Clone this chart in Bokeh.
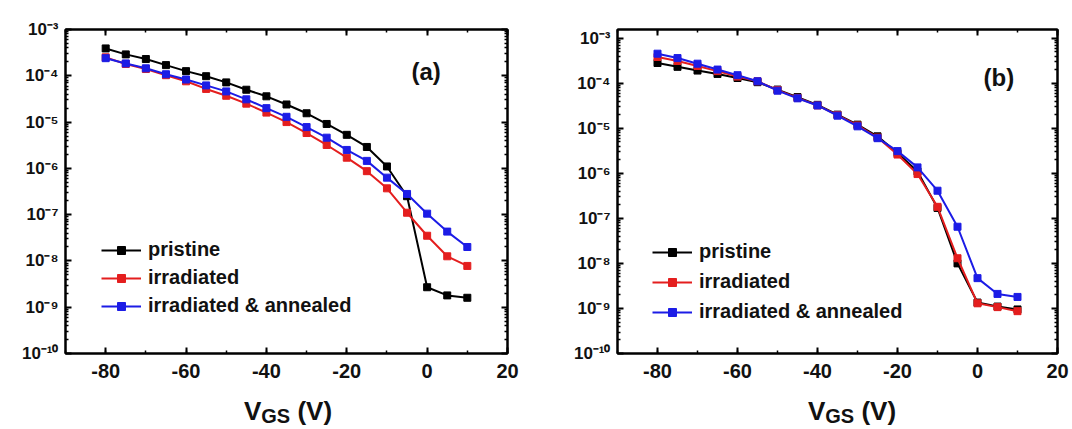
from bokeh.plotting import figure
from bokeh.layouts import row, column
from bokeh.models import (Range1d, FixedTicker, SingleIntervalTicker, CustomJSTickFormatter,
                          LogAxis, LinearAxis, Label, Legend, Div)
from bokeh.embed import file_html
from bokeh.resources import INLINE

# ---- data ----
vgs = [-80, -75, -70, -65, -60, -55, -50, -45, -40, -35, -30, -25, -20, -15, -10, -5, 0, 5, 10]

a_pristine = [3.9e-4, 2.9e-4, 2.3e-4, 1.7e-4, 1.26e-4, 9.8e-5, 7.2e-5, 5.0e-5, 3.6e-5, 2.4e-5,
              1.55e-5, 9.1e-6, 5.3e-6, 2.9e-6, 1.1e-6, 2.5e-7, 2.7e-9, 1.8e-9, 1.6e-9]
a_irradiated = [2.5e-4, 1.8e-4, 1.4e-4, 1.03e-4, 7.6e-5, 5.2e-5, 3.7e-5, 2.5e-5, 1.6e-5, 1.0e-5,
                5.8e-6, 3.2e-6, 1.7e-6, 8.7e-7, 3.7e-7, 1.1e-7, 3.5e-8, 1.26e-8, 7.8e-9]
a_annealed = [2.4e-4, 1.85e-4, 1.45e-4, 1.08e-4, 8.3e-5, 6.2e-5, 4.6e-5, 3.1e-5, 2.0e-5, 1.3e-5,
              7.8e-6, 4.6e-6, 2.5e-6, 1.45e-6, 6.3e-7, 2.8e-7, 1.05e-7, 4.3e-8, 2.0e-8]

b_pristine = [2.8e-4, 2.3e-4, 1.9e-4, 1.6e-4, 1.3e-4, 1.05e-4, 7.2e-5, 4.9e-5, 3.3e-5, 2.0e-5,
              1.2e-5, 6.6e-6, 2.8e-6, 1.1e-6, 1.7e-7, 1.0e-8, 1.35e-9, 1.1e-9, 9.5e-10]
b_irradiated = [3.8e-4, 3.1e-4, 2.4e-4, 1.85e-4, 1.4e-4, 1.1e-4, 7.0e-5, 4.7e-5, 3.2e-5, 1.95e-5,
                1.15e-5, 6.2e-6, 2.6e-6, 9.6e-7, 1.8e-7, 1.3e-8, 1.3e-9, 1.07e-9, 8.7e-10]
b_annealed = [4.5e-4, 3.6e-4, 2.7e-4, 2.0e-4, 1.5e-4, 1.1e-4, 6.8e-5, 4.6e-5, 3.2e-5, 1.9e-5,
              1.1e-5, 6.0e-6, 3.1e-6, 1.35e-6, 4.1e-7, 6.5e-8, 4.7e-9, 2.1e-9, 1.8e-9]

series_names = ["pristine", "irradiated", "irradiated & annealed"]
series_colors = ["#000000", "#e41e1e", "#1c1ce6"]
panel_tags = ["(a)", "(b)"]
x_label_parts = ["V", "GS", "(V)"]

FONT = "Liberation Sans"

decades = [10.0 ** e for e in range(-10, -2)]
minors = [m * 10.0 ** e for e in range(-11, -2) for m in range(2, 10)]

sup_js = """
const sup = {"-":"\u207b","0":"\u2070","1":"\u00b9","2":"\u00b2","3":"\u00b3","4":"\u2074",
             "5":"\u2075","6":"\u2076","7":"\u2077","8":"\u2078","9":"\u2079"};
const e = Math.round(Math.log10(tick));
return "10" + String(e).split("").map(c => sup[c]).join("");
"""


def make_panel(series, tag, ytop, borders, size, legend_loc, legend_spacing, tag_pos):
    bl, br, bt, bb = borders
    p = figure(width=size[0], height=size[1], y_axis_type="log",
               x_range=Range1d(-90, 20), y_range=Range1d(1e-10, ytop),
               output_backend="svg", toolbar_location=None,
               min_border_left=bl, min_border_right=br, min_border_top=bt, min_border_bottom=bb)
    p.grid.visible = False
    p.outline_line_color = "black"
    p.outline_line_width = 2
    p.background_fill_color = "white"
    p.border_fill_color = "white"

    xt = SingleIntervalTicker(interval=20, num_minor_ticks=2)
    yt = FixedTicker(ticks=decades, minor_ticks=minors)
    fmt = CustomJSTickFormatter(code=sup_js)
    blank = CustomJSTickFormatter(code="return '';")

    xa = p.xaxis[0]
    xa.ticker = xt
    xa.formatter = CustomJSTickFormatter(code="return tick.toFixed(0);")
    ya = p.yaxis[0]
    ya.ticker = yt
    ya.formatter = fmt

    top = LinearAxis(ticker=xt, formatter=blank)
    right = LogAxis(ticker=yt, formatter=blank)
    p.add_layout(top, "above")
    p.add_layout(right, "right")

    for ax in [xa, ya, top, right]:
        ax.axis_line_width = 2
        ax.axis_line_color = "black"
        ax.major_tick_in = 6
        ax.major_tick_out = 0
        ax.minor_tick_in = 3
        ax.minor_tick_out = 0
        ax.major_tick_line_width = 2
        ax.minor_tick_line_width = 1.5
        ax.major_label_text_font = FONT
        ax.major_label_text_font_style = "bold"
        ax.major_label_text_color = "#111111"
    for ax in [top, right]:
        ax.major_label_standoff = 0
    xa.major_label_text_font_size = "20px"
    xa.major_label_standoff = 10
    ya.major_label_text_font_size = "17px"
    ya.major_label_standoff = 7

    items = []
    for vals, name, col in zip(series, series_names, series_colors):
        ln = p.line(vgs, vals, line_color=col, line_width=2)
        sc = p.scatter(vgs, vals, marker="square", size=7, fill_color=col, line_color=col)
        items.append((name, [ln, sc]))

    leg = Legend(items=items, location=legend_loc, border_line_color=None,
                 background_fill_alpha=0, padding=0, margin=0, spacing=legend_spacing,
                 glyph_width=40, glyph_height=20, label_height=20, label_standoff=7,
                 label_text_font=FONT, label_text_font_style="bold",
                 label_text_font_size="20px", label_text_color="#111111")
    p.add_layout(leg, "center")

    p.add_layout(Label(x=tag_pos[0], y=tag_pos[1], x_units="screen", y_units="screen",
                       text=tag, text_font=FONT, text_font_style="bold", text_font_size="24px",
                       text_baseline="middle", text_color="#111111"))
    return p


def x_title(width, pad_left):
    html = (
        f'<div style="width:{width}px;height:39px;box-sizing:border-box;padding-top:3px;'
        f'padding-left:{pad_left}px;text-align:center;font-family:\'{FONT}\';font-weight:bold;'
        f'font-size:26px;line-height:26px;color:#111111;white-space:nowrap;">'
        f'{x_label_parts[0]}<span style="font-size:20px;position:relative;top:3px;">'
        f'{x_label_parts[1]}</span> {x_label_parts[2]}</div>'
    )
    return Div(text=html, width=width, height=39)


# panel (a): frame 65..507 x 28..353
wa = 65 + 442 + 50
pa = make_panel([a_pristine, a_irradiated, a_annealed], panel_tags[0], 1e-3,
                (65, 50, 28, 37), (wa, 390), (36, 36), 5, (346, 282))

# panel (b): frame 617..1057 x 29..356
wb = 60 + 440 + 15
pb = make_panel([b_pristine, b_irradiated, b_annealed], panel_tags[1], 1.55e-3,
                (60, 15, 29, 34), (wb, 390), (35, 30), 7, (366, 276))

layout = column(row(pa, pb), row(x_title(wa, 9), x_title(wb, 45)))
open("out.html", "w").write(file_html(layout, INLINE))
